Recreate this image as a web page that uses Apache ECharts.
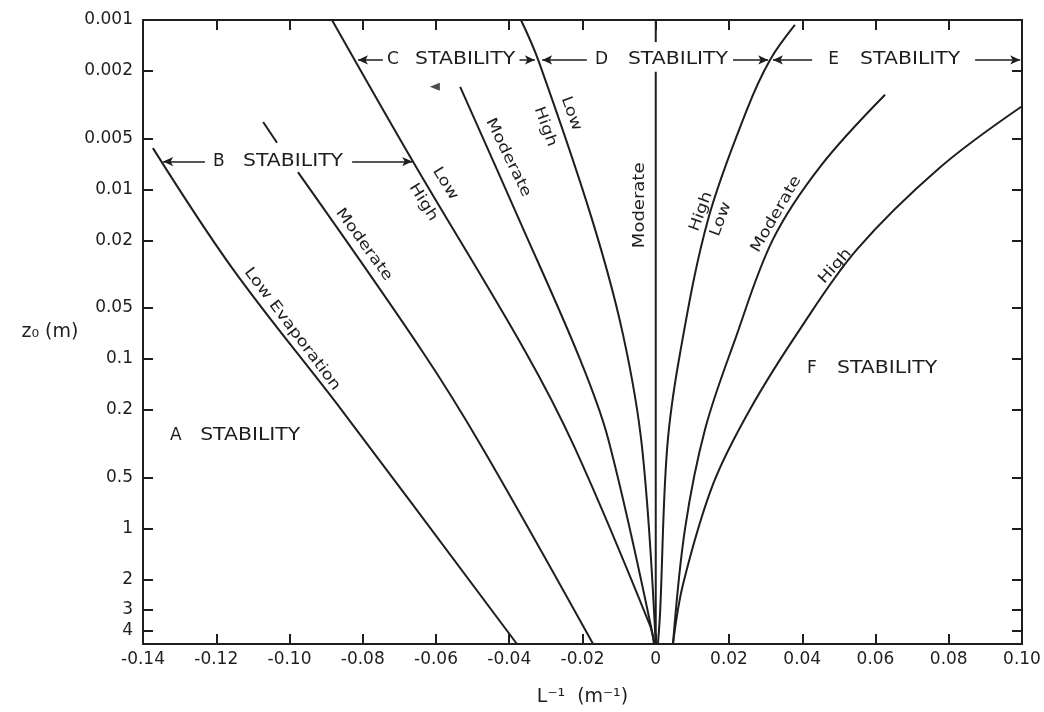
<!DOCTYPE html>
<html>
<head>
<meta charset="utf-8">
<title>Roughness length vs 1/L stability classes</title>
<script src="https://cdn.jsdelivr.net/npm/echarts@6/dist/echarts.min.js"></script>
<style>
    html, body { margin: 0; padding: 0; background: #fff; }
    #chart { width: 1044px; height: 712px; }
</style>
</head>
<body>
<div id="chart"></div>
<script>
const INK = "#1e1e1e";
const FONT = "\"DejaVu Sans\", \"Liberation Sans\", sans-serif";

/** z0 tick labels (m) */
const zTicks = [0.001, 0.002, 0.005, 0.01, 0.02, 0.05, 0.1, 0.2, 0.5, 1, 2, 3, 4];

// each curve: [1/L (1/m), z0 (m)]
const lowEvaporation = [[-0.1373, 0.0057], [-0.1154, 0.0296], [-0.0854, 0.205], [-0.0379, 4.8]];
const bModerateStub = [[-0.1072, 0.0040], [-0.1034, 0.0053]];
const bModerate = [[-0.0977, 0.0079], [-0.0638, 0.0897], [-0.0472, 0.338], [-0.0171, 4.8]];
const bcBoundary = [[-0.0884, 0.001], [-0.0663, 0.00684], [-0.0357, 0.0897], [-0.0220, 0.338], [-0.0016, 3.72], [-0.0005, 4.8]];
const cModerate = [[-0.0534, 0.00248], [-0.0371, 0.0154], [-0.0207, 0.1], [-0.0130, 0.295], [-0.0003, 4.8]];
const cdBoundary = [[-0.0368, 0.001], [-0.0321, 0.00172], [-0.0174, 0.0150], [-0.0090, 0.0708], [-0.0037, 0.338], [0, 4.8]];
const dModerateStub = [[0, 0.001], [0, 0.00135]];
const dModerate = [[0, 0.00202], [0, 4.8]];
const deBoundary = [[0.0380, 0.00107], [0.0312, 0.00172], [0.0249, 0.00338], [0.0143, 0.0150], [0.0066, 0.0934], [0.0031, 0.338], [0.0012, 3.08], [0.0006, 4.8]];
const eModerate = [[0.0626, 0.00276], [0.0449, 0.00732], [0.0320, 0.0197], [0.0217, 0.0763], [0.0135, 0.258], [0.0080, 1.0], [0.0047, 4.8]];
const efHigh = [[0.0998, 0.00325], [0.0776, 0.00742], [0.0550, 0.0225], [0.0394, 0.0666], [0.0258, 0.197], [0.0157, 0.544], [0.0075, 2.11], [0.0047, 4.8]];
const tickMark = [[-0.0603, 0.00248]];

/** curve labels: text, 1/L, z0, angle (deg, + = anticlockwise) */
const curveLabels = [
    ["Low Evaporation", -0.0993, 0.0666, -53],
    ["Moderate", -0.0797, 0.0211, -54],
    ["Low", -0.0575, 0.00922, -58],
    ["High", -0.0635, 0.0119, -58],
    ["Moderate", -0.0403, 0.00648, -64],
    ["Low", -0.0231, 0.00357, -70],
    ["High", -0.0302, 0.00426, -70],
    ["Moderate", -0.0043, 0.0124, 90],
    ["High", 0.0124, 0.0135, 70],
    ["Low", 0.0178, 0.0150, 70],
    ["Moderate", 0.0329, 0.0140, 60],
    ["High", 0.0490, 0.0284, 48],
];

/** stability class texts: text, left edge 1/L, z0 */
const stabilityLabels = [
    ["A", -0.1326, 0.284], ["STABILITY", -0.1244, 0.284],
    ["B", -0.1209, 0.00684], ["STABILITY", -0.1127, 0.00684],
    ["C", -0.0734, 0.00172], ["STABILITY", -0.0657, 0.00172],
    ["D", -0.0166, 0.00172], ["STABILITY", -0.0076, 0.00172],
    ["E", 0.0471, 0.00172], ["STABILITY", 0.0558, 0.00172],
    ["F", 0.0413, 0.1145], ["STABILITY", 0.0495, 0.1145],
];

/** range arrows: from -> head */
const arrows = [
    [[-0.1231, 0.00684], [-0.1345, 0.00684]],
    [[-0.0829, 0.00684], [-0.0665, 0.00684]],
    [[-0.0745, 0.00172], [-0.0813, 0.00172]],
    [[-0.0372, 0.00172], [-0.0330, 0.00172]],
    [[-0.0188, 0.00172], [-0.0310, 0.00172]],
    [[0.0211, 0.00172], [0.0307, 0.00172]],
    [[0.0427, 0.00172], [0.0320, 0.00172]],
    [[0.0872, 0.00172], [0.0995, 0.00172]],
];

const curve = (data) => ({
    type: "line",
    data,
    smooth: 0.35,
    showSymbol: false,
    silent: true,
    lineStyle: { color: INK, width: 2 },
});

const axisLine = { onZero: false, lineStyle: { color: INK, width: 2 } };
const axisTick = { inside: true, length: 10, lineStyle: { color: INK, width: 2 } };
const tickText = { color: INK, fontSize: 17, fontFamily: FONT };

const option = {
    backgroundColor: "#fff",
    animation: false,
    grid: { left: 143, right: 22, top: 20, bottom: 66 },
    xAxis: [
        {
            type: "value",
            min: -0.14,
            max: 0.10,
            interval: 0.02,
            position: "bottom",
            axisLine,
            axisTick,
            splitLine: { show: false },
            axisLabel: {
                ...tickText,
                margin: 7,
                formatter: (v) => (Math.abs(v) < 1e-9 ? "0" : v.toFixed(2)),
            },
            name: "L⁻¹  (m⁻¹)",
            nameLocation: "middle",
            nameGap: 44,
            nameTextStyle: { color: INK, fontSize: 19, fontFamily: FONT },
        },
        {
            type: "value",
            min: -0.14,
            max: 0.10,
            interval: 0.02,
            position: "top",
            axisLine,
            axisTick,
            splitLine: { show: false },
            axisLabel: { show: false },
        },
    ],
    yAxis: [
        {
            type: "log",
            logBase: 10,
            inverse: true,
            min: 0.001,
            max: 4.8,
            position: "left",
            axisLine,
            axisTick: { ...axisTick, customValues: zTicks },
            minorTick: { show: false },
            splitLine: { show: false },
            axisLabel: {
                ...tickText,
                margin: 10,
                customValues: zTicks,
                formatter: (v) => String(Number(Number(v).toPrecision(3))),
            },
            name: "z₀ (m)",
            nameLocation: "middle",
            nameRotate: 0,
            nameGap: 64,
            nameTextStyle: { color: INK, fontSize: 19, fontFamily: FONT },
        },
        {
            type: "log",
            logBase: 10,
            inverse: true,
            min: 0.001,
            max: 4.8,
            position: "right",
            axisLine,
            axisTick: { ...axisTick, customValues: zTicks },
            minorTick: { show: false },
            splitLine: { show: false },
            axisLabel: { show: false },
        },
    ],
    series: [
        curve(lowEvaporation),
        curve(bModerateStub),
        curve(bModerate),
        curve(bcBoundary),
        curve(cModerate),
        curve(cdBoundary),
        curve(dModerateStub),
        curve(dModerate),
        curve(deBoundary),
        curve(eModerate),
        curve(efHigh),
        {
            type: "scatter",
            data: tickMark,
            symbol: "triangle",
            symbolRotate: 90,
            symbolSize: [8, 10],
            silent: true,
            itemStyle: { color: INK },
        },
        {
            type: "line",
            data: [],
            silent: true,
            markLine: {
                silent: true,
                symbol: ["none", "arrow"],
                symbolSize: [7, 10],
                label: { show: false },
                lineStyle: { color: INK, width: 1.5, type: "solid" },
                emphasis: { disabled: true },
                data: arrows.map(([from, to]) => [{ coord: from }, { coord: to }]),
            },
        },
    ],
};

const chart = echarts.init(document.getElementById("chart"));
chart.setOption(option);

// texts placed through the data scales
const toPx = (x, z) => chart.convertToPixel({ seriesIndex: 0 }, [x, z]);
const graphic = [];
curveLabels.forEach(([text, x, z, angle]) => {
    const [px, py] = toPx(x, z);
    graphic.push({
        type: "text",
        x: px,
        y: py,
        rotation: angle * Math.PI / 180,
        scaleX: 1.2,
        silent: true,
        style: { text, fill: INK, fontSize: 15, fontFamily: FONT, align: "center", verticalAlign: "middle" },
    });
});
stabilityLabels.forEach(([text, x, z]) => {
    const [px, py] = toPx(x, z);
    graphic.push({
        type: "text",
        x: px,
        y: py,
        scaleX: text.length > 1 ? 1.2 : 1,
        silent: true,
        style: { text, fill: INK, fontSize: 17, fontFamily: FONT, align: "left", verticalAlign: "middle" },
    });
});
chart.setOption({ graphic });
</script>
</body>
</html>
